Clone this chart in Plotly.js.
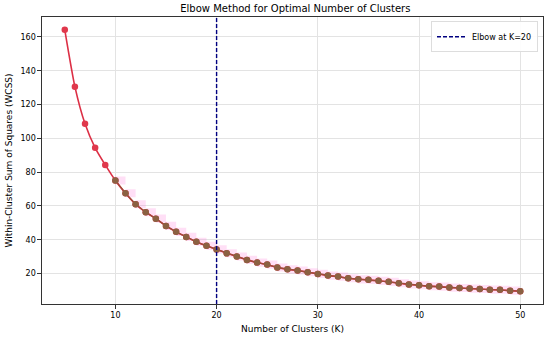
<!DOCTYPE html>
<html>
<head>
<meta charset="utf-8">
<script src="https://cdn.plot.ly/plotly-3.0.1.min.js"></script>
<style>html,body{margin:0;padding:0;background:#fff}#chart{width:550px;height:338px}</style>
</head>
<body>
<div id="chart"></div>
<script>
const clusters = [5,6,7,8,9,10,11,12,13,14,15,16,17,18,19,20,21,22,23,24,25,26,27,28,29,30,31,32,33,34,35,36,37,38,39,40,41,42,43,44,45,46,47,48,49,50];
const wcss = [164.2,130.6,108.6,94.4,84.3,75.1,67.5,61.0,56.3,52.5,48.2,44.7,41.7,38.8,36.4,34.3,32.0,30.1,28.1,26.5,25.3,23.6,22.5,21.8,20.8,19.8,18.8,18.2,17.2,16.6,16.3,15.7,15.1,14.3,13.5,13.1,12.5,12.3,11.7,11.5,11.1,10.9,10.5,10.4,9.9,9.5];
const elbowK = 20;
const bandHalfWidth = 2.4;
const xRange = [2.75, 52.25];
const yRange = [2.0, 171.8];
const xTicks = [10,20,30,40,50];
const yTicks = [20,40,60,80,100,120,140,160];

const startIdx = clusters.indexOf(10);
const tailX = clusters.slice(startIdx);
const tailY = wcss.slice(startIdx);
const upper = tailY.map(v => v + bandHalfWidth);
const lower = tailY.map(v => v - bandHalfWidth);

const traces = [
  {x: tailX, y: lower, mode:'lines', line:{width:0, shape:'hv'}, hoverinfo:'skip', showlegend:false},
  {x: tailX, y: upper, mode:'lines', line:{width:0, shape:'hv'}, fill:'tonexty', fillcolor:'rgba(255,110,215,0.22)', hoverinfo:'skip', showlegend:false},
  {x: clusters, y: wcss, mode:'lines+markers', line:{color:'#dc2f45', width:1.6, shape:'spline', smoothing:0.6},
   marker:{color:'#e0384c', size:6.5}, showlegend:false},
  {x: tailX, y: tailY, mode:'lines+markers', line:{color:'#a04a3a', width:1.4},
   marker:{color:'#8b6142', size:6.5}, showlegend:false},
  {x: [elbowK, elbowK], y: yRange, mode:'lines', line:{color:'#000080', width:1.4, dash:'4px,2px'},
   name:'Elbow at K=' + elbowK, showlegend:true}
];

const font = {family:'DejaVu Sans, sans-serif', color:'#000'};
const layout = {
  width:550, height:338,
  margin:{l:42, r:7, t:17, b:34},
  paper_bgcolor:'#fff', plot_bgcolor:'#fff',
  font:Object.assign({size:8}, font),
  title:{text:'Elbow Method for Optimal Number of Clusters', font:Object.assign({size:10}, font), x:0.537, xanchor:'center', y:0.985, yanchor:'top'},
  xaxis:{range:xRange, tickvals:xTicks, ticktext:xTicks.map(String), showgrid:true, gridcolor:'#e3e3e3', gridwidth:1,
    zeroline:false, showline:true, linecolor:'#333', linewidth:1.1, mirror:true, ticks:'outside', ticklen:3.5, tickcolor:'#333',
    tickfont:Object.assign({size:8}, font),
    title:{text:'Number of Clusters (K)', font:Object.assign({size:9}, font), standoff:6}},
  yaxis:{range:yRange, tickvals:yTicks, ticktext:yTicks.map(String), showgrid:true, gridcolor:'#e3e3e3', gridwidth:1,
    zeroline:false, showline:true, linecolor:'#333', linewidth:1.1, mirror:true, ticks:'outside', ticklen:3.5, tickcolor:'#333',
    tickfont:Object.assign({size:8}, font),
    title:{text:'Within-Cluster Sum of Squares (WCSS)', font:Object.assign({size:9}, font), standoff:6}},
  legend:{x:0.99, xanchor:'right', y:0.985, yanchor:'top', bgcolor:'rgba(255,255,255,0.9)', bordercolor:'#dddddd', borderwidth:1,
    font:Object.assign({size:8}, font), itemwidth:30},
  showlegend:true
};
Plotly.newPlot('chart', traces, layout, {displayModeBar:false, staticPlot:true});
</script>
</body>
</html>
